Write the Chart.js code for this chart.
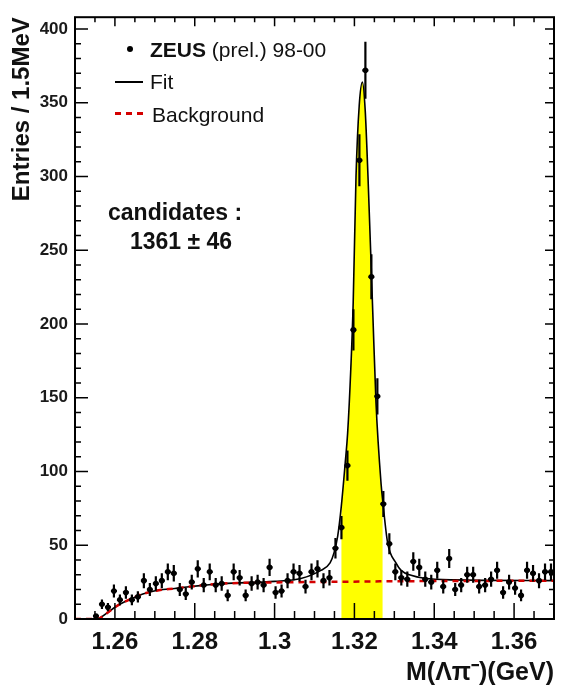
<!DOCTYPE html>
<html>
<head>
<meta charset="utf-8">
<script src="https://cdn.jsdelivr.net/npm/chart.js@4.4.0/dist/chart.umd.min.js"></script>
<style>
  body { margin: 0; background: #fff; }
  #wrap { position: relative; width: 568px; height: 690px; font-family: "Liberation Sans", Arial, sans-serif; color: #111; }
  canvas { position: absolute; left: 0; top: 0; }
  .txt { position: absolute; white-space: nowrap; line-height: 1; }
  .sym { position: absolute; }
</style>
</head>
<body>
<div id="wrap">
  <canvas id="chart" width="568" height="690"></canvas>

  <div class="sym" style="left:127px;top:46px;width:6px;height:6px;border-radius:50%;background:#000"></div>
  <div class="txt" style="left:150px;top:38.5px;font-size:21px"><b>ZEUS</b> (prel.) 98-00</div>

  <div class="sym" style="left:115px;top:81px;width:28px;height:1.5px;background:#000"></div>
  <div class="txt" style="left:150px;top:71px;font-size:21px">Fit</div>

  <div class="sym" style="left:115px;top:112px;width:30px;height:3px;background:repeating-linear-gradient(90deg,#d40000 0 6px,transparent 6px 11px)"></div>
  <div class="txt" style="left:152px;top:103.5px;font-size:21px">Background</div>

  <div class="txt" style="left:108px;top:201px;font-size:23px;font-weight:bold">candidates :</div>
  <div class="txt" style="left:130px;top:230px;font-size:23px;font-weight:bold">1361 ± 46</div>
</div>

<script>
// bin centres (1.5 MeV bins) and entries
const massBins = [1.25075, 1.25225, 1.25375, 1.25525, 1.25675, 1.25825, 1.25975, 1.26125, 1.26275, 1.26425,
                  1.26575, 1.26725, 1.26875, 1.27025, 1.27175, 1.27325, 1.27475, 1.27625, 1.27775, 1.27925,
                  1.28075, 1.28225, 1.28375, 1.28525, 1.28675, 1.28825, 1.28975, 1.29125, 1.29275, 1.29425,
                  1.29575, 1.29725, 1.29875, 1.30025, 1.30175, 1.30325, 1.30475, 1.30625, 1.30775, 1.30925,
                  1.31075, 1.31225, 1.31375, 1.31525, 1.31675, 1.31825, 1.31975, 1.32125, 1.32275, 1.32425,
                  1.32575, 1.32725, 1.32875, 1.33025, 1.33175, 1.33325, 1.33475, 1.33625, 1.33775, 1.33925,
                  1.34075, 1.34225, 1.34375, 1.34525, 1.34675, 1.34825, 1.34975, 1.35125, 1.35275, 1.35425,
                  1.35575, 1.35725, 1.35875, 1.36025, 1.36175, 1.36325, 1.36475, 1.36625, 1.36775, 1.36925];
const entries = [null, null, null, 2, 10, 8, 19, 13, 18, 13,
                 15, 26, 20, 24, 26, 32, 31, 20, 17, 25,
                 34, 23, 32, 23, 24, 16, 32, 28, 16, 24,
                 25, 23, 35, 18, 19, 26, 32, 31, 22, 32,
                 34, 26, 28, 48, 62, 104, 196, 311, 372, 232,
                 151, 78, 51, 32, 28, 27, 39, 35, 27, 25,
                 33, 22, 41, 20, 23, 30, 30, 22, 23, 27,
                 33, 18, 25, 21, 16, 33, 31, 26, 32, 32];
const binHalfWidth = 0.00075;

// fit curve (signal + background)
const fitMass  = [1.25, 1.2555, 1.258, 1.26, 1.2635, 1.267, 1.271, 1.275, 1.279, 1.287,
                  1.30, 1.3066, 1.3116, 1.3139, 1.3149, 1.3158, 1.3167, 1.3177, 1.3183, 1.3191,
                  1.3197, 1.3204, 1.3212, 1.3220, 1.3227, 1.3234, 1.3246, 1.3254, 1.3267, 1.3271,
                  1.3283, 1.3304, 1.3317, 1.3342, 1.3375, 1.345, 1.37];
const fitCurve = [0, 0, 4, 8, 13, 17, 19.5, 20.7, 22, 24,
                  25.5, 27.5, 33, 38, 45, 56, 76, 106, 126, 170,
                  215, 300, 348, 364, 345, 300, 208, 147, 91, 80,
                  52, 38, 33, 29.6, 27.6, 26.5, 26];

// background curve
const bgMass  = [1.25, 1.2555, 1.258, 1.26, 1.2635, 1.267, 1.271, 1.275, 1.279, 1.287, 1.30, 1.315, 1.33, 1.35, 1.37];
const bgCurve = [0, 0, 4, 8, 13, 17, 19.5, 20.7, 22, 24, 24.8, 25.2, 25.6, 25.8, 26];

// signal mass window (yellow)
const windowLow = 1.3167;
const windowHigh = 1.3271;

const xTickValues = [1.26, 1.28, 1.30, 1.32, 1.34, 1.36];
const xTickLabels = ['1.26', '1.28', '1.3', '1.32', '1.34', '1.36'];
const yTickValues = [0, 50, 100, 150, 200, 250, 300, 350, 400];

const FONT = '"Liberation Sans", Arial, sans-serif';

const points = massBins.map((m, i) => ({ x: m, y: entries[i] }));
const fit = fitMass.map((m, i) => ({ x: m, y: fitCurve[i] }));
const bg = bgMass.map((m, i) => ({ x: m, y: bgCurve[i] }));
const shade = fit.filter(p => p.x >= windowLow - 1e-9 && p.x <= windowHigh + 1e-9);

const errorBars = {
    id: 'errorBars',
    afterDatasetsDraw(chart) {
        const xs = chart.scales.x, ys = chart.scales.y, ctx = chart.ctx;
        ctx.save();
        ctx.strokeStyle = '#000';
        ctx.lineWidth = 2.2;
        ctx.beginPath();
        massBins.forEach((m, i) => {
            const n = entries[i];
            if (n == null) return;
            const err = Math.sqrt(n);
            const px = xs.getPixelForValue(m);
            const py = ys.getPixelForValue(n);
            ctx.moveTo(px, ys.getPixelForValue(Math.max(0, n - err)));
            ctx.lineTo(px, ys.getPixelForValue(n + err));
            ctx.moveTo(xs.getPixelForValue(m - binHalfWidth), py);
            ctx.lineTo(xs.getPixelForValue(m + binHalfWidth), py);
        });
        ctx.stroke();
        ctx.restore();
    }
};

// frame with inward ticks on all four sides
const frame = {
    id: 'frame',
    afterDatasetsDraw(chart) {
        const { ctx, chartArea: a, scales: { x, y } } = chart;
        ctx.save();
        ctx.strokeStyle = '#000';
        ctx.lineWidth = 1.5;
        ctx.beginPath();
        for (let k = 1; k < 24; k++) {
            const v = 1.25 + k * 0.005;
            const px = x.getPixelForValue(v);
            const major = xTickValues.some(t => Math.abs(t - v) < 1e-6);
            ctx.moveTo(px, a.bottom); ctx.lineTo(px, a.bottom - (major ? 16 : 8));
            ctx.moveTo(px, a.top); ctx.lineTo(px, a.top + (major ? 9 : 5));
        }
        for (let v = 10; v <= 400; v += 10) {
            const py = y.getPixelForValue(v);
            const major = v % 50 === 0;
            ctx.moveTo(a.left, py); ctx.lineTo(a.left + (major ? 13 : 6), py);
            ctx.moveTo(a.right, py); ctx.lineTo(a.right - (major ? 9 : 5), py);
        }
        ctx.stroke();
        ctx.lineWidth = 2;
        ctx.strokeRect(a.left, a.top, a.right - a.left, a.bottom - a.top);
        ctx.restore();
    }
};

new Chart(document.getElementById('chart'), {
    type: 'line',
    data: {
        datasets: [
            {
                label: 'ZEUS (prel.) 98-00',
                data: points,
                showLine: false,
                pointRadius: 2.8,
                pointBackgroundColor: '#000',
                pointBorderWidth: 0,
                order: 0
            },
            {
                label: 'Background',
                data: bg,
                borderColor: '#d40000',
                borderWidth: 2.5,
                borderDash: [6, 5],
                pointRadius: 0,
                cubicInterpolationMode: 'monotone',
                fill: false,
                order: 1
            },
            {
                label: 'Fit',
                data: fit,
                borderColor: '#000',
                borderWidth: 1.6,
                pointRadius: 0,
                cubicInterpolationMode: 'monotone',
                fill: false,
                order: 2
            },
            {
                label: 'window',
                data: shade,
                borderWidth: 0,
                borderColor: 'rgba(0,0,0,0)',
                backgroundColor: '#ffff00',
                pointRadius: 0,
                cubicInterpolationMode: 'monotone',
                fill: 'origin',
                order: 3
            }
        ]
    },
    options: {
        responsive: false,
        animation: false,
        layout: { padding: { left: 6, right: 14, top: 12, bottom: 2 } },
        plugins: {
            legend: { display: false },
            tooltip: { enabled: false }
        },
        scales: {
            x: {
                type: 'linear',
                min: 1.25,
                max: 1.37,
                grid: { display: false, drawTicks: false },
                border: { display: false },
                afterBuildTicks: s => { s.ticks = xTickValues.map(v => ({ value: v })); },
                afterFit: s => { s.height = 69; },
                ticks: {
                    autoSkip: false,
                    maxRotation: 0,
                    padding: 9,
                    color: '#111',
                    font: { family: FONT, size: 24, weight: 'bold' },
                    callback: (v, i) => xTickLabels[i]
                },
                title: {
                    display: true,
                    text: 'M(Λπ⁻)(GeV)',
                    align: 'end',
                    color: '#111',
                    padding: 0,
                    font: { family: FONT, size: 25, weight: 'bold' }
                }
            },
            y: {
                min: 0,
                max: 408,
                grid: { display: false, drawTicks: false },
                border: { display: false },
                afterBuildTicks: s => { s.ticks = yTickValues.map(v => ({ value: v })); },
                afterFit: s => { s.width = 69; },
                ticks: {
                    padding: 7,
                    color: '#1a1a1a',
                    font: { family: FONT, size: 17, weight: 'bold' }
                },
                title: {
                    display: true,
                    text: 'Entries / 1.5MeV',
                    align: 'end',
                    color: '#111',
                    padding: { top: 2, bottom: 0 },
                    font: { family: FONT, size: 24, weight: 'bold' }
                }
            }
        }
    },
    plugins: [errorBars, frame]
});
</script>
</body>
</html>
